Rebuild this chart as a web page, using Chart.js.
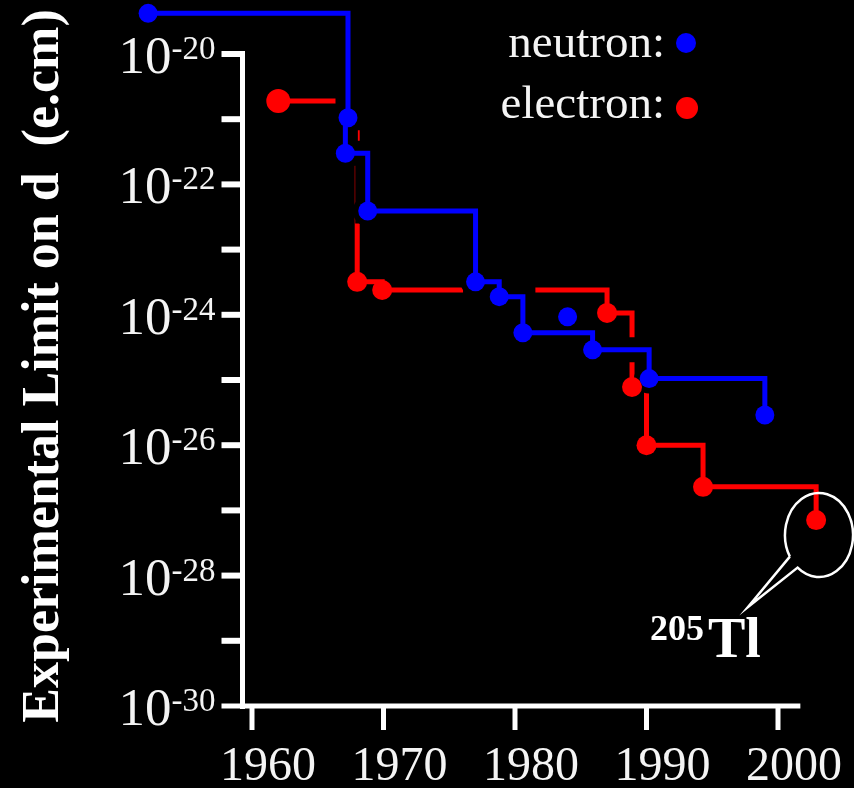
<!DOCTYPE html>
<html>
<head>
<meta charset="utf-8">
<script src="https://cdn.jsdelivr.net/npm/chart.js@4/dist/chart.umd.min.js"></script>
<style>
html, body { margin: 0; padding: 0; background: #000; }
canvas { display: block; }
</style>
</head>
<body>
<canvas id="c" width="854" height="788"></canvas>
<script>
// ---------------- data ----------------
const neutronYears  = [1952.1, 1967.3, 1967.1, 1968.8, 1977.0, 1978.8, 1980.6, 1985.9, 1990.2, 1999.0];
const neutronLimits = [4.2e-20, 1.05e-21, 3.0e-22, 3.9e-23, 3.2e-24, 1.9e-24, 5.3e-25, 2.9e-25, 1.05e-25, 2.9e-26];
const neutronExtraYears  = [1984.0];
const neutronExtraLimits = [9.3e-25];
const electronYears  = [1962.0, 1968.0, 1969.9, 1987.0, 1988.9, 1990.0, 1994.3, 2002.9];
const electronLimits = [1.9e-21, 3.2e-24, 2.4e-24, 1.07e-24, 7.8e-26, 1.0e-26, 2.3e-27, 7.1e-28];
const yearTicks = [1960, 1970, 1980, 1990, 2000];
const labelExponents = [-20, -22, -24, -26, -28, -30];
const tickExponents = [-20, -21, -22, -23, -24, -25, -26, -27, -28, -29];
const yTitle = 'Experimental Limit on d  (e.cm)';
const legendLabels = ['neutron:', 'electron:'];
const calloutIsotope = '205';
const calloutElement = 'Tl';

// ---------------- layout helpers ----------------
const W = 854, H = 788;
const AREA = { left: 120, right: 850, top: 0, bottom: 720 };
const X1960 = 252, PX_PER_YEAR = 13.15;
const Y_E20 = 54, PX_PER_DECADE = 65.2;
const xMin = 1960 - (X1960 - AREA.left) / PX_PER_YEAR;
const xMax = 1960 + (AREA.right - X1960) / PX_PER_YEAR;
const yMaxExp = -20 + (Y_E20 - AREA.top) / PX_PER_DECADE;
const yMinExp = -20 - (AREA.bottom - Y_E20) / PX_PER_DECADE;

const toXY = (xs, ys) => xs.map((x, i) => ({ x: x, y: ys[i] }));

const BLUE = '#0000ff', RED = '#ff0000', WHITE = '#ffffff', TEXT = '#f4f4f4';
const SERIF = '"Liberation Serif", "Times New Roman", serif';

const decorPlugin = {
  id: 'decor',
  beforeDraw(chart) {
    const c = chart.ctx;
    c.save();
    c.fillStyle = '#000';
    c.fillRect(0, 0, chart.width, chart.height);
    c.restore();
  },
  beforeDatasetsDraw(chart) {
    const c = chart.ctx, xs = chart.scales.x, ys = chart.scales.y;
    const axisX = xs.getPixelForValue(1960) - 9.5;
    const top = ys.getPixelForValue(1e-20);
    const bottom = ys.getPixelForValue(1e-30);
    c.save();
    c.strokeStyle = WHITE;
    c.lineCap = 'butt';
    // y axis line
    c.lineWidth = 5;
    c.beginPath();
    c.moveTo(axisX, top - 3);
    c.lineTo(axisX, bottom + 3);
    c.stroke();
    // x axis line (its left end doubles as the 10^-30 tick)
    c.beginPath();
    c.moveTo(axisX - 21, bottom);
    c.lineTo(xs.getPixelForValue(2001.7), bottom);
    c.stroke();
    // y ticks
    c.lineWidth = 6;
    tickExponents.forEach(e => {
      const y = ys.getPixelForValue(Math.pow(10, e));
      c.beginPath();
      c.moveTo(axisX - 21, y);
      c.lineTo(axisX, y);
      c.stroke();
    });
    // x ticks
    c.lineWidth = 5;
    yearTicks.forEach(yr => {
      const x = xs.getPixelForValue(yr);
      c.beginPath();
      c.moveTo(x, bottom);
      c.lineTo(x, bottom + 24);
      c.stroke();
    });
    c.restore();
  },
  afterDraw(chart) {
    const c = chart.ctx, xs = chart.scales.x, ys = chart.scales.y;
    const axisX = xs.getPixelForValue(1960) - 9.5;
    c.save();
    c.fillStyle = TEXT;
    // y tick labels 10^n
    labelExponents.forEach(e => {
      const y = ys.getPixelForValue(Math.pow(10, e));
      const sup = '-' + Math.abs(e);
      c.textAlign = 'right';
      c.textBaseline = 'alphabetic';
      c.font = '33px ' + SERIF;
      const supRight = axisX - 27;
      c.fillText(sup, supRight, y + 5);
      const sw = c.measureText(sup).width;
      c.font = '53px ' + SERIF;
      c.fillText('10', supRight - sw, y + 19);
    });
    // x tick labels
    c.font = '48px ' + SERIF;
    c.textAlign = 'center';
    yearTicks.forEach(yr => {
      c.fillText(String(yr), xs.getPixelForValue(yr) + 16, 780);
    });
    // y title
    c.save();
    c.translate(58, 366);
    c.rotate(-Math.PI / 2);
    c.font = 'bold 52px ' + SERIF;
    c.textAlign = 'center';
    c.fillStyle = WHITE;
    c.fillText(yTitle, 0, 0);
    c.restore();
    // legend
    c.font = '47px ' + SERIF;
    c.textAlign = 'right';
    c.fillText(legendLabels[0], 665, 57);
    c.fillText(legendLabels[1], 665, 118);
    c.fillStyle = BLUE;
    c.beginPath(); c.arc(686, 43, 10, 0, Math.PI * 2); c.fill();
    c.fillStyle = RED;
    c.beginPath(); c.arc(687, 108, 11, 0, Math.PI * 2); c.fill();
    // callout bubble
    const cx = 819, cy = 535, rx = 34, ry = 42;
    const a1 = 149 * Math.PI / 180, a2 = 129 * Math.PI / 180;
    c.strokeStyle = WHITE;
    c.lineWidth = 2.5;
    c.lineJoin = 'miter';
    c.beginPath();
    c.ellipse(cx, cy, rx, ry, 0, a1, a2 + Math.PI * 2, false);
    c.lineTo(748, 607);
    c.lineTo(cx + rx * Math.cos(a1), cy + ry * Math.sin(a1));
    c.stroke();
    // 205Tl label
    c.fillStyle = WHITE;
    c.textAlign = 'left';
    c.font = 'bold 36px ' + SERIF;
    c.fillText(calloutIsotope, 650, 640);
    c.font = 'bold 56px ' + SERIF;
    c.fillText(calloutElement, 708, 657);
    c.restore();
  }
};

new Chart(document.getElementById('c').getContext('2d'), {
  type: 'line',
  data: {
    datasets: [
      { label: 'neutron', data: toXY(neutronYears, neutronLimits), stepped: true,
        borderColor: BLUE, backgroundColor: BLUE, borderWidth: 5, pointRadius: 9.5,
        pointBorderWidth: 0, pointBackgroundColor: BLUE, fill: false, clip: false, order: 0 },
      { label: 'neutron (other)', data: toXY(neutronExtraYears, neutronExtraLimits), showLine: false,
        pointRadius: 9.5, pointBorderWidth: 0, pointBackgroundColor: BLUE, borderColor: BLUE, clip: false, order: 1 },
      { label: 'electron markers', data: toXY(electronYears, electronLimits), showLine: false,
        pointRadius: ctx => (ctx.dataIndex === 0 ? 12 : 10), pointBorderWidth: 0,
        pointBackgroundColor: RED, borderColor: RED, clip: false, order: 2 },
      { label: 'neutron halo', data: toXY(neutronYears, neutronLimits), stepped: true,
        borderColor: '#000', backgroundColor: '#000', borderWidth: 25, pointRadius: 15,
        pointBorderWidth: 0, pointBackgroundColor: '#000', fill: false, clip: false, order: 3 },
      { label: 'electron', data: toXY(electronYears, electronLimits), stepped: true,
        borderColor: RED, borderWidth: 5, pointRadius: 0, fill: false, clip: false, order: 4 }
    ]
  },
  options: {
    responsive: false,
    animation: false,
    events: [],
    layout: { autoPadding: false, padding: { left: AREA.left, right: W - AREA.right, top: AREA.top, bottom: H - AREA.bottom } },
    plugins: { legend: { display: false }, tooltip: { enabled: false } },
    scales: {
      x: { type: 'linear', display: false, min: xMin, max: xMax, bounds: 'data' },
      y: { type: 'logarithmic', display: false, min: Math.pow(10, yMinExp), max: Math.pow(10, yMaxExp), bounds: 'data' }
    }
  },
  plugins: [decorPlugin]
});
</script>
</body>
</html>
